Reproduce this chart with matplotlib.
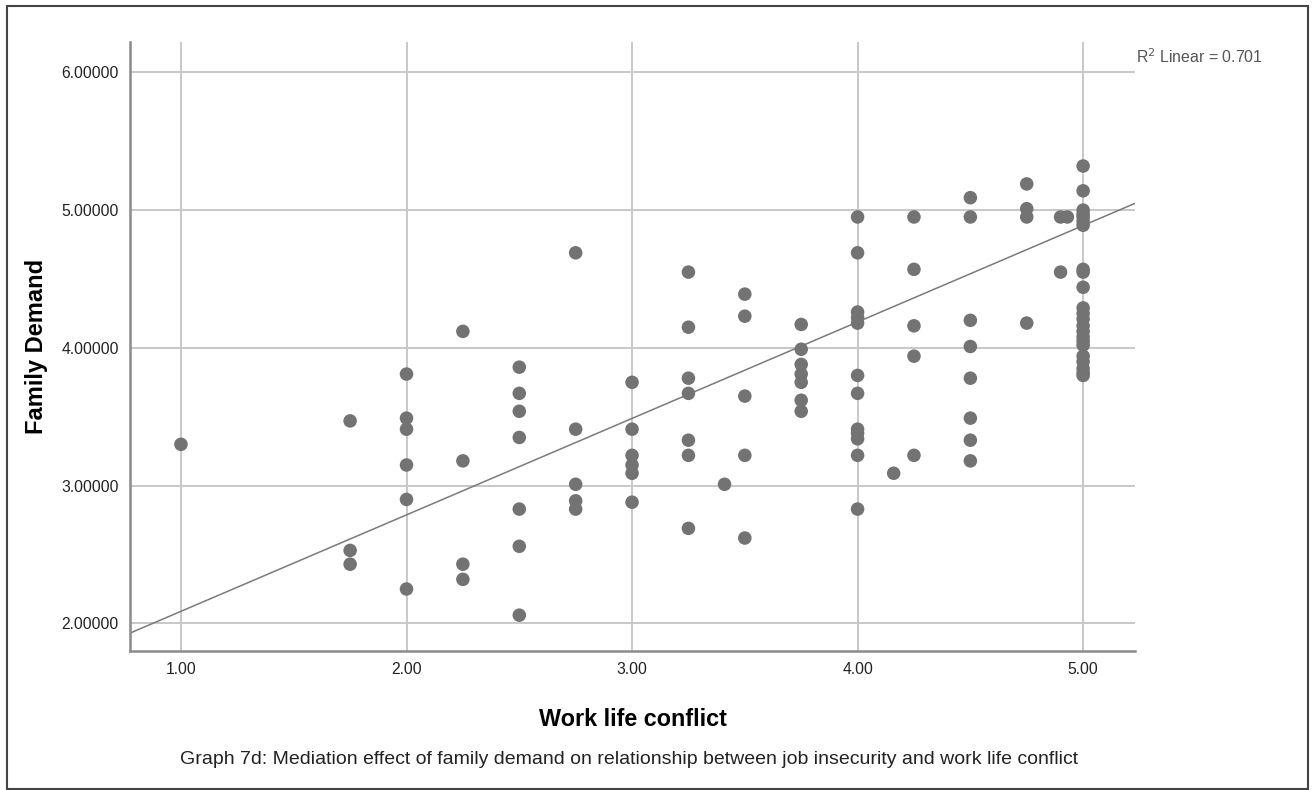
import numpy as np
import matplotlib.pyplot as plt
from matplotlib.patches import Rectangle

# work life conflict (x) and family demand (y)
work_life = [
    1.00,
    1.75, 1.75, 1.75,
    2.00, 2.00, 2.00, 2.00, 2.00, 2.00,
    2.25, 2.25, 2.25, 2.25,
    2.50, 2.50, 2.50, 2.50, 2.50, 2.50, 2.50,
    2.75, 2.75, 2.75, 2.75, 2.75,
    3.00, 3.00, 3.00, 3.00, 3.00, 3.00,
    3.25, 3.25, 3.25, 3.25, 3.25, 3.25, 3.25,
    3.41,
    3.50, 3.50, 3.50, 3.50, 3.50,
    3.75, 3.75, 3.75, 3.75, 3.75, 3.75, 3.75,
    4.00, 4.00, 4.00, 4.00, 4.00, 4.00, 4.00, 4.00, 4.00, 4.00, 4.00, 4.00,
    4.16,
    4.25, 4.25, 4.25, 4.25, 4.25,
    4.50, 4.50, 4.50, 4.50, 4.50, 4.50, 4.50, 4.50,
    4.75, 4.75, 4.75, 4.75,
    4.90, 4.93, 4.90,
    5.00, 5.00, 5.00, 5.00, 5.00, 5.00, 5.00, 5.00, 5.00, 5.00, 5.00, 5.00,
    5.00, 5.00, 5.00, 5.00, 5.00, 5.00, 5.00, 5.00, 5.00, 5.00, 5.00,
]
family_demand = [
    3.30,
    3.47, 2.53, 2.43,
    3.81, 3.49, 3.41, 3.15, 2.90, 2.25,
    4.12, 3.18, 2.43, 2.32,
    3.86, 3.67, 3.54, 3.35, 2.83, 2.56, 2.06,
    4.69, 3.41, 3.01, 2.89, 2.83,
    3.75, 3.41, 3.22, 3.15, 3.09, 2.88,
    4.55, 4.15, 3.78, 3.67, 3.33, 3.22, 2.69,
    3.01,
    4.39, 4.23, 3.65, 3.22, 2.62,
    4.17, 3.99, 3.88, 3.81, 3.75, 3.62, 3.54,
    4.95, 4.69, 4.26, 4.22, 4.18, 3.80, 3.67, 3.41, 3.38, 3.34, 3.22, 2.83,
    3.09,
    4.95, 4.57, 4.16, 3.94, 3.22,
    5.09, 4.95, 4.20, 4.01, 3.78, 3.49, 3.33, 3.18,
    5.19, 5.01, 4.95, 4.18,
    4.95, 4.95, 4.55,
    5.32, 5.14, 5.00, 4.97, 4.95, 4.92, 4.89, 4.57, 4.55, 4.44, 4.29, 4.25,
    4.21, 4.16, 4.12, 4.08, 4.05, 4.02, 3.94, 3.90, 3.85, 3.82, 3.80,
]

# linear fit line as drawn in the picture (many cases overlap, so it is
# steeper than a fit through the visible dots)
fit_intercept = 1.388
fit_slope = 0.700

x_ticks = [1, 2, 3, 4, 5]
y_ticks = [2, 3, 4, 5, 6]
r2_label = "R$^2$ Linear = 0.701"
caption = ("Graph 7d: Mediation effect of family demand on relationship "
           "between job insecurity and work life conflict")

plt.rcParams["font.family"] = ["Liberation Sans", "DejaVu Sans"]

fig = plt.figure(figsize=(13.12, 7.9), dpi=100)
ax = fig.add_axes([130 / 1312, 1 - 651 / 790, 1005 / 1312, 609 / 790])

x = np.array(work_life)
y = np.array(family_demand)

ax.set_xlim(0.774, 5.23)
ax.set_ylim(1.80, 6.22)

xl = np.array(ax.get_xlim())
ax.plot(xl, fit_intercept + fit_slope * xl, color="#7a7a7a", lw=1.1, zorder=2)

ax.scatter(x, y, s=95, color="#737373", edgecolors="none", zorder=3)

ax.set_xticks(x_ticks)
ax.set_xticklabels([f"{v:.2f}" for v in x_ticks])
ax.set_yticks(y_ticks)
ax.set_yticklabels([f"{v:.5f}" for v in y_ticks])
ax.tick_params(length=0, labelsize=11.3, colors="#222222", pad=8)
ax.tick_params(axis="y", pad=8)

ax.grid(True, color="#c8c8c8", lw=1.4, zorder=0)
ax.set_axisbelow(True)
for s in ["top", "right"]:
    ax.spines[s].set_visible(False)
for s in ["left", "bottom"]:
    ax.spines[s].set_color("#8a8a8a")
    ax.spines[s].set_linewidth(1.8)

ax.set_xlabel("Work life conflict", fontsize=16.8, fontweight="bold", labelpad=22)
ax.set_ylabel("Family Demand", fontsize=17, fontweight="bold", labelpad=9.5)

fig.text(1136 / 1312, 1 - 57 / 790, r2_label, fontsize=11.4, color="#555555",
         ha="left", va="center")
fig.text(629 / 1312, 1 - 760 / 790, caption,
         fontsize=14, color="#222222", ha="center", va="center")

# outer frame round the whole picture
fig.patches.append(Rectangle((7 / 1312, 1 / 790), 1301 / 1312, 783 / 790,
                             transform=fig.transFigure, fill=False,
                             edgecolor="#444444", lw=1.5))

fig.savefig("out.png", dpi=100)
